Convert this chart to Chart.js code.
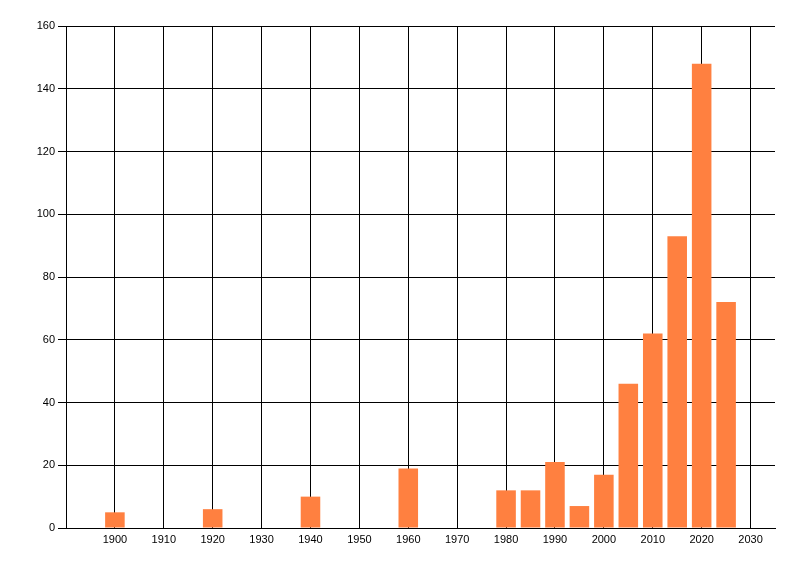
<!DOCTYPE html>
<html>
<head>
  <meta charset="UTF-8">
  <title>Bar chart</title>
  <script src="https://cdn.jsdelivr.net/npm/chart.js"></script>
  <style>
    body { margin: 0; background: #fff; }
    #wrap { width: 800px; height: 576px; }
  </style>
</head>
<body>
  <div id="wrap"><canvas id="myChart" width="800" height="576"></canvas></div>
  <script>
    // years (bar centres) and counts
    let anni = [1900, 1920, 1940, 1960, 1980, 1985, 1990, 1995, 2000, 2005, 2010, 2015, 2020, 2025];
    let valori = [5, 6, 10, 19, 12, 12, 21, 7, 17, 46, 62, 93, 148, 72];
    let tickAnni = [1900, 1910, 1920, 1930, 1940, 1950, 1960, 1970, 1980, 1990, 2000, 2010, 2020, 2030];

    let xMin = 1890, xMax = 2035;
    let yMin = 0, yMax = 160, yStep = 20;

    let punti = anni.map((a, i) => ({ x: a, y: valori[i] }));

    let ctx = document.getElementById('myChart').getContext('2d');
    let chart = new Chart(ctx, {
      type: 'bar',
      data: {
        datasets: [{
          data: punti,
          backgroundColor: '#FF8040',
          borderWidth: 0,
          barPercentage: 1,
          categoryPercentage: 0.8
        }]
      },
      options: {
        responsive: false,
        animation: false,
        layout: { padding: { left: 0, top: 26, right: 25, bottom: 0 } },
        plugins: { legend: { display: false }, tooltip: { enabled: false } },
        scales: {
          x: {
            type: 'linear',
            min: xMin,
            max: xMax,
            offset: false,
            afterBuildTicks: s => { s.ticks = tickAnni.map(v => ({ value: v })); },
            afterFit: s => { s.height = 48; },
            ticks: {
              color: '#000',
              padding: 5,
              maxRotation: 0,
              autoSkip: false,
              font: { family: 'Liberation Sans', size: 11 },
              callback: v => String(v)
            },
            grid: { color: '#000', lineWidth: 1, drawTicks: false, offset: false },
            border: { color: '#000', width: 1 }
          },
          y: {
            min: yMin,
            max: yMax,
            afterFit: s => { s.width = 66; },
            ticks: {
              stepSize: yStep,
              color: '#000',
              padding: 3,
              font: { family: 'Liberation Sans', size: 11 }
            },
            grid: { color: '#000', lineWidth: 1, drawTicks: true, tickLength: 8 },
            border: { color: '#000', width: 1 }
          }
        }
      }
    });
  </script>
</body>
</html>
